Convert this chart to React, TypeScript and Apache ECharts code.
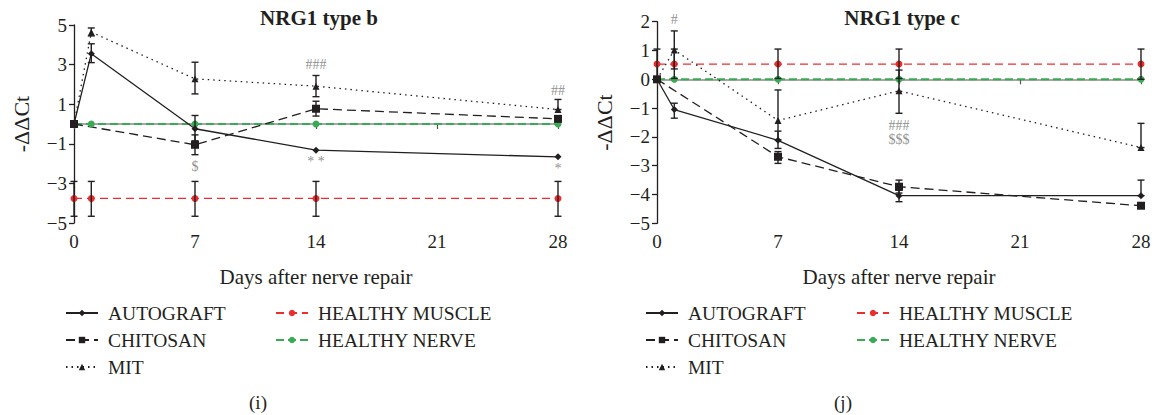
import React, { useEffect, useRef } from "react";
import * as echarts from "echarts";

const FONT = "Liberation Serif";
const INK = "#231f20";
const RED = "#ee2c2c";
const GREEN = "#3aaa55";

const days = [0, 7, 14, 21, 28];

// NRG1 type b
const bAutograft = [[0, 0], [1, 3.55], [7, -0.24], [14, -1.32], [28, -1.66]];
const bChitosan = [[0, 0], [7, -1.05], [14, 0.77], [28, 0.26]];
const bMit = [[0, 0], [1, 4.64], [7, 2.28], [14, 1.91], [28, 0.73]];
const bMuscle = [[0, -3.76], [1, -3.76], [7, -3.76], [14, -3.76], [28, -3.76]];
const bNerve = [[0, 0], [1, 0], [7, 0], [14, 0], [28, 0]];
const bErrors = [
  [1, 3.1, 4.05], [1, 4.45, 4.85],
  [7, -0.85, 0.43], [7, -1.55, -0.55], [7, 1.52, 3.12],
  [14, 1.38, 2.45], [14, 0.4, 1.15],
  [28, 0.73, 1.24],
  [0, -4.66, -2.9], [1, -4.66, -2.9], [7, -4.66, -2.9], [14, -4.66, -2.9], [28, -4.66, -2.9],
];
const bNotes = [
  [7, -2.13, "$"], [14, -1.9, "* *"], [28, -2.25, "*"], [14, 3.0, "###"], [28, 1.71, "##"],
];

// NRG1 type c
const cAutograft = [[0, 0], [1, -1.05], [7, -2.12], [14, -4.04], [28, -4.04]];
const cChitosan = [[0, 0], [7, -2.69], [14, -3.73], [28, -4.39]];
const cMit = [[0, 0], [1, 1.02], [7, -1.43], [14, -0.4], [28, -2.37]];
const cMuscle = [[0, 0.53], [1, 0.53], [7, 0.53], [14, 0.53], [28, 0.53]];
const cNerve = [[0, 0], [1, 0], [7, 0], [14, 0], [28, 0]];
const cErrors = [
  [1, -1.35, -0.83], [1, 0.36, 1.68],
  [7, -2.1, -0.37], [7, -2.4, -1.8], [7, -2.92, -2.51],
  [14, -1.18, 0.32], [14, -4.25, -3.85], [14, -3.95, -3.5],
  [28, -2.37, -1.53], [28, -4.04, -3.5],
  [0, 0.03, 1.05], [1, 0.03, 1.05], [7, 0.03, 1.05], [14, 0.03, 1.05], [28, 0.0, 1.05],
];
const cNotes = [[1, 2.09, "#"], [14, -1.59, "###"], [14, -2.1, "$$$"]];

const groupNames = ["AUTOGRAFT", "CHITOSAN", "MIT"];
const healthyNames = ["HEALTHY MUSCLE", "HEALTHY NERVE"];

const txt = { fontFamily: FONT, color: INK };

function lineSeries(gi: number, name: string, data: number[][], opts: any) {
  return {
    type: "line",
    name,
    xAxisIndex: gi * 2,
    yAxisIndex: gi,
    data,
    symbol: opts.symbol,
    symbolSize: opts.size,
    lineStyle: { color: opts.color, width: opts.width, type: opts.type },
    itemStyle: { color: opts.color },
    z: 3,
  };
}

function errSeries(gi: number, data: number[][]) {
  return {
    type: "custom",
    xAxisIndex: gi * 2,
    yAxisIndex: gi,
    data,
    z: 4,
    silent: true,
    renderItem: (params: any, api: any) => {
      const x = api.value(0);
      const p1 = api.coord([x, api.value(1)]);
      const p2 = api.coord([x, api.value(2)]);
      const w = 3.5;
      const st = { stroke: INK, lineWidth: 1.4 };
      return {
        type: "group",
        children: [
          { type: "line", shape: { x1: p1[0], y1: p1[1], x2: p2[0], y2: p2[1] }, style: st },
          { type: "line", shape: { x1: p1[0] - w, y1: p1[1], x2: p1[0] + w, y2: p1[1] }, style: st },
          { type: "line", shape: { x1: p2[0] - w, y1: p2[1], x2: p2[0] + w, y2: p2[1] }, style: st },
        ],
      };
    },
  };
}

function noteSeries(gi: number, data: any[]) {
  return {
    type: "scatter",
    xAxisIndex: gi * 2,
    yAxisIndex: gi,
    data,
    symbolSize: 1,
    clip: false,
    silent: true,
    itemStyle: { color: "transparent" },
    label: {
      show: true,
      position: "inside",
      formatter: (p: any) => p.value[2],
      fontFamily: FONT,
      fontSize: 14,
      color: "#707070",
    },
    z: 6,
  };
}

function seriesFor(gi: number, a: number[][], ch: number[][], m: number[][], mu: number[][], ne: number[][], errs: number[][], notes: any[]) {
  return [
    errSeries(gi, errs),
    lineSeries(gi, "HEALTHY NERVE", ne, { symbol: "circle", size: 7, color: GREEN, width: 2, type: [8, 4] }),
    lineSeries(gi, "HEALTHY MUSCLE", mu, { symbol: "circle", size: 7, color: RED, width: 1.3, type: [8, 5] }),
    lineSeries(gi, "AUTOGRAFT", a, { symbol: "diamond", size: 7, color: INK, width: 1.3, type: "solid" }),
    lineSeries(gi, "CHITOSAN", ch, { symbol: "rect", size: 8, color: INK, width: 1.3, type: [9, 5] }),
    lineSeries(gi, "MIT", m, { symbol: "triangle", size: 7, color: INK, width: 1.3, type: [1.5, 4] }),
    noteSeries(gi, notes),
  ];
}

function xAxes(gi: number) {
  return [
    {
      gridIndex: gi,
      type: "value",
      min: 0,
      max: 28,
      interval: 7,
      position: "bottom",
      axisLine: { show: false, onZero: false },
      axisTick: { show: false },
      splitLine: { show: false },
      axisLabel: { ...txt, fontSize: 19, margin: 9, formatter: (v: number) => (days.includes(v) ? String(v) : "") },
      name: "Days after nerve repair",
      nameLocation: "middle",
      nameGap: 43,
      nameTextStyle: { ...txt, fontSize: 21 },
    },
    {
      gridIndex: gi,
      type: "value",
      min: 0,
      max: 28,
      interval: 7,
      position: "bottom",
      axisLine: { show: true, onZero: true, lineStyle: { color: "#8a8a8a", width: 1.5 } },
      axisTick: { show: true, length: 5, lineStyle: { color: "#555", width: 1.2 } },
      splitLine: { show: false },
      axisLabel: { show: false },
    },
  ];
}

function yAxis(gi: number, min: number, max: number, interval: number, gap: number) {
  return {
    gridIndex: gi,
    type: "value",
    min,
    max,
    interval,
    axisLine: { show: true, onZero: false, lineStyle: { color: INK, width: 1.3 } },
    axisTick: { show: true, length: 5, lineStyle: { color: INK, width: 1.3 } },
    splitLine: { show: false },
    axisLabel: { ...txt, fontSize: 19, margin: 7, formatter: (v: number) => String(v).replace("-", "\u2212") },
    name: "-\u0394\u0394Ct",
    nameLocation: "middle",
    nameGap: gap,
    nameTextStyle: { ...txt, fontSize: 22 },
  };
}

function legends(left1: number, left2: number) {
  const common = {
    orient: "vertical",
    top: 303,
    padding: 0,
    itemWidth: 32,
    itemHeight: 8,
    itemGap: 7,
    selectedMode: false,
    textStyle: { ...txt, fontSize: 19.5, lineHeight: 19.5, padding: [0, 0, 0, 5] },
  };
  return [
    { ...common, left: left1, data: groupNames },
    { ...common, left: left2, data: healthyNames },
  ];
}

export default function App() {
  const ref = useRef<HTMLDivElement>(null);
  useEffect(() => {
    if (!ref.current) return;
    const chart = echarts.init(ref.current, undefined, { renderer: "svg" });
    const option: any = {
      animation: false,
      backgroundColor: "#fff",
      grid: [
        { left: 74, top: 25, width: 484, height: 198 },
        { left: 657, top: 21.7, width: 484, height: 201.6 },
      ],
      xAxis: [...xAxes(0), ...xAxes(1)],
      yAxis: [yAxis(0, -5, 5, 2, 42), yAxis(1, -5, 2, 1, 42)],
      legend: [...legends(65, 275), ...legends(645, 856)],
      series: [
        ...seriesFor(0, bAutograft, bChitosan, bMit, bMuscle, bNerve, bErrors, bNotes),
        ...seriesFor(1, cAutograft, cChitosan, cMit, cMuscle, cNerve, cErrors, cNotes),
      ],
      graphic: [
        { type: "text", x: 319, y: 18, style: { text: "NRG1 type b", font: `bold 21px ${FONT}`, fill: INK, textAlign: "center", textVerticalAlign: "middle" } },
        { type: "text", x: 902, y: 18, style: { text: "NRG1 type c", font: `bold 21px ${FONT}`, fill: INK, textAlign: "center", textVerticalAlign: "middle" } },
        { type: "text", x: 258, y: 402, style: { text: "(i)", font: `19px ${FONT}`, fill: INK, textAlign: "center", textVerticalAlign: "middle" } },
        { type: "text", x: 843, y: 402, style: { text: "(j)", font: `19px ${FONT}`, fill: INK, textAlign: "center", textVerticalAlign: "middle" } },
      ],
    };
    chart.setOption(option);
    return () => chart.dispose();
  }, []);
  return <div ref={ref} style={{ position: "fixed", left: 0, top: 0, width: 1154, height: 415 }} />;
}
